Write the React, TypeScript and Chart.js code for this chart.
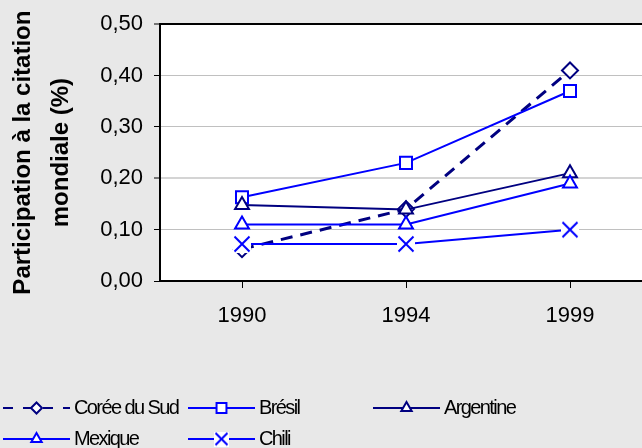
import { useEffect, useRef } from 'react';
import { Chart, registerables } from 'chart.js';
import { drawPoint } from 'chart.js/helpers';

Chart.register(...registerables);

const years = ['1990', '1994', '1999'];
const coreeDuSud = [0.062, 0.14, 0.41];
const bresil = [0.163, 0.23, 0.37];
const argentine = [0.148, 0.139, 0.21];
const mexique = [0.11, 0.11, 0.19];
const chili = [0.072, 0.072, 0.1];
const seriesNames = ['Corée du Sud', 'Brésil', 'Argentine', 'Mexique', 'Chili'];
const yMin = 0;
const yMax = 0.5;
const yStep = 0.1;
const yTitle = ['Participation à la citation', 'mondiale (%)'];

const NAVY = '#000080';
const BLUE = '#0000ff';
const FONT = '"Liberation Sans", Arial, sans-serif';

function makeXMarker(color: string, size: number, inset: number) {
  const c = document.createElement('canvas');
  c.width = size;
  c.height = size;
  const g = c.getContext('2d')!;
  g.fillStyle = '#ffffff';
  g.fillRect(0, 0, size, size);
  g.strokeStyle = color;
  g.lineWidth = 2;
  g.beginPath();
  const a = inset;
  const b = size - inset;
  g.moveTo(a, a);
  g.lineTo(b, b);
  g.moveTo(b, a);
  g.lineTo(a, b);
  g.stroke();
  return c;
}

export default function App() {
  const ref = useRef<HTMLCanvasElement>(null);

  useEffect(() => {
    const canvas = ref.current!;
    const xMarker = makeXMarker(BLUE, 18, 1.5);
    const xMarkerSmall = makeXMarker(BLUE, 15, 1.5);

    const legendPlugin = {
      id: 'excelLegend',
      afterDraw(chart: any) {
        const ctx = chart.ctx as CanvasRenderingContext2D;
        const slots = [
          { x: 3, y: 408 },
          { x: 188, y: 408 },
          { x: 373, y: 408 },
          { x: 3, y: 439 },
          { x: 188, y: 439 },
        ];
        chart.data.datasets.forEach((ds: any, i: number) => {
          const s = slots[i];
          const len = 67;
          ctx.save();
          ctx.strokeStyle = ds.borderColor;
          ctx.lineWidth = 2;
          ctx.setLineDash(ds.legendDash || []);
          ctx.beginPath();
          ctx.moveTo(s.x, s.y);
          ctx.lineTo(s.x + len, s.y);
          ctx.stroke();
          ctx.setLineDash([]);
          const mx = s.x + len / 2;
          if (typeof ds.pointStyle === 'string') {
            ctx.fillStyle = '#ffffff';
            ctx.strokeStyle = ds.borderColor;
            ctx.lineWidth = 2;
            drawPoint(ctx, { pointStyle: ds.pointStyle, radius: ds.legendRadius, rotation: 0, borderWidth: 2 } as any, mx, s.y);
          } else {
            ctx.drawImage(xMarkerSmall, mx - 7.5, s.y - 7.5, 15, 15);
          }
          ctx.fillStyle = '#000000';
          ctx.font = `20px ${FONT}`;
          (ctx as any).letterSpacing = '-1.6px';
          ctx.textBaseline = 'middle';
          ctx.textAlign = 'left';
          ctx.fillText(ds.label, s.x + len + 4, s.y);
          ctx.restore();
        });
      },
    };

    const plotBg = {
      id: 'plotBg',
      beforeDraw(chart: any) {
        const { ctx, chartArea } = chart;
        ctx.save();
        ctx.fillStyle = '#ffffff';
        ctx.fillRect(chartArea.left, chartArea.top, chartArea.right - chartArea.left, chartArea.bottom - chartArea.top);
        ctx.restore();
      },
    };

    const chart = new Chart(canvas, {
      type: 'line',
      data: {
        labels: years,
        datasets: [
          {
            label: seriesNames[0],
            data: coreeDuSud,
            borderColor: NAVY,
            borderWidth: 3,
            borderDash: [12, 8],
            pointStyle: 'rectRot',
            pointRadius: 8,
            pointBorderWidth: 2,
            pointBorderColor: NAVY,
            pointBackgroundColor: '#ffffff',
            order: 5,
            legendDash: [10, 10],
            legendRadius: 5.5,
          } as any,
          {
            label: seriesNames[1],
            data: bresil,
            borderColor: BLUE,
            borderWidth: 2,
            pointStyle: 'rect',
            pointRadius: 8.5,
            pointBorderWidth: 2,
            pointBorderColor: BLUE,
            pointBackgroundColor: '#ffffff',
            order: 4,
            legendRadius: 7,
          } as any,
          {
            label: seriesNames[2],
            data: argentine,
            borderColor: NAVY,
            borderWidth: 2,
            pointStyle: 'triangle',
            pointRadius: 8,
            pointBorderWidth: 2,
            pointBorderColor: NAVY,
            pointBackgroundColor: '#ffffff',
            order: 3,
            legendRadius: 6,
          } as any,
          {
            label: seriesNames[3],
            data: mexique,
            borderColor: BLUE,
            borderWidth: 2,
            pointStyle: 'triangle',
            pointRadius: 8,
            pointBorderWidth: 2,
            pointBorderColor: BLUE,
            pointBackgroundColor: '#ffffff',
            order: 2,
            legendRadius: 6,
          } as any,
          {
            label: seriesNames[4],
            data: chili,
            borderColor: BLUE,
            borderWidth: 2,
            pointStyle: xMarker,
            pointRadius: 9,
            order: 1,
          } as any,
        ],
      },
      options: {
        responsive: false,
        animation: false,
        events: [],
        layout: { padding: { left: 0, right: 28, top: 24, bottom: 0 } },
        plugins: {
          legend: { display: false },
          tooltip: { enabled: false },
        },
        elements: { line: { tension: 0 } },
        scales: {
          x: {
            offset: true,
            grid: {
              display: true,
              drawOnChartArea: false,
              drawTicks: true,
              tickLength: 7,
              tickColor: '#000000',
              tickWidth: 1,
            },
            border: { display: true, color: '#000000', width: 2 },
            ticks: {
              color: '#000000',
              font: { family: FONT, size: 22 },
              padding: 15,
              maxRotation: 0,
            },
            afterFit: (s: any) => {
              s.height = 167;
            },
          },
          y: {
            min: yMin,
            max: yMax,
            ticks: {
              stepSize: yStep,
              color: '#000000',
              font: { family: FONT, size: 22 },
              padding: 11,
              callback: (v: any) => Number(v).toFixed(2).replace('.', ','),
            },
            grid: {
              color: (c: any) => (c.tick && Math.abs(c.tick.value - yMax) < 1e-9 ? '#000000' : Math.abs((c.tick?.value ?? 0) - 0.2) < 1e-9 ? '#d4d4d4' : '#c0c0c0'),
              lineWidth: (c: any) => (c.tick && (Math.abs(c.tick.value - yMax) < 1e-9 || Math.abs(c.tick.value - 0.2) < 1e-9) ? 2 : 1),
              tickLength: 6,
              tickColor: '#000000',
              tickWidth: 1,
            },
            border: { display: true, color: '#000000', width: 2 },
            title: {
              display: true,
              text: yTitle,
              color: '#000000',
              font: { family: FONT, size: 24, weight: 'bold', lineHeight: 1.58 },
              padding: { top: 4, bottom: 0 },
            },
            afterFit: (s: any) => {
              s.width = 160;
            },
          },
        },
      },
      plugins: [plotBg, legendPlugin],
    });

    return () => chart.destroy();
  }, []);

  return (
    <div
      style={{
        position: 'fixed',
        left: 0,
        top: 0,
        width: 642,
        height: 448,
        overflow: 'hidden',
        background: '#e8e8e8',
      }}
    >
      <canvas ref={ref} width={680} height={448} style={{ width: 680, height: 448, display: 'block' }} />
    </div>
  );
}
